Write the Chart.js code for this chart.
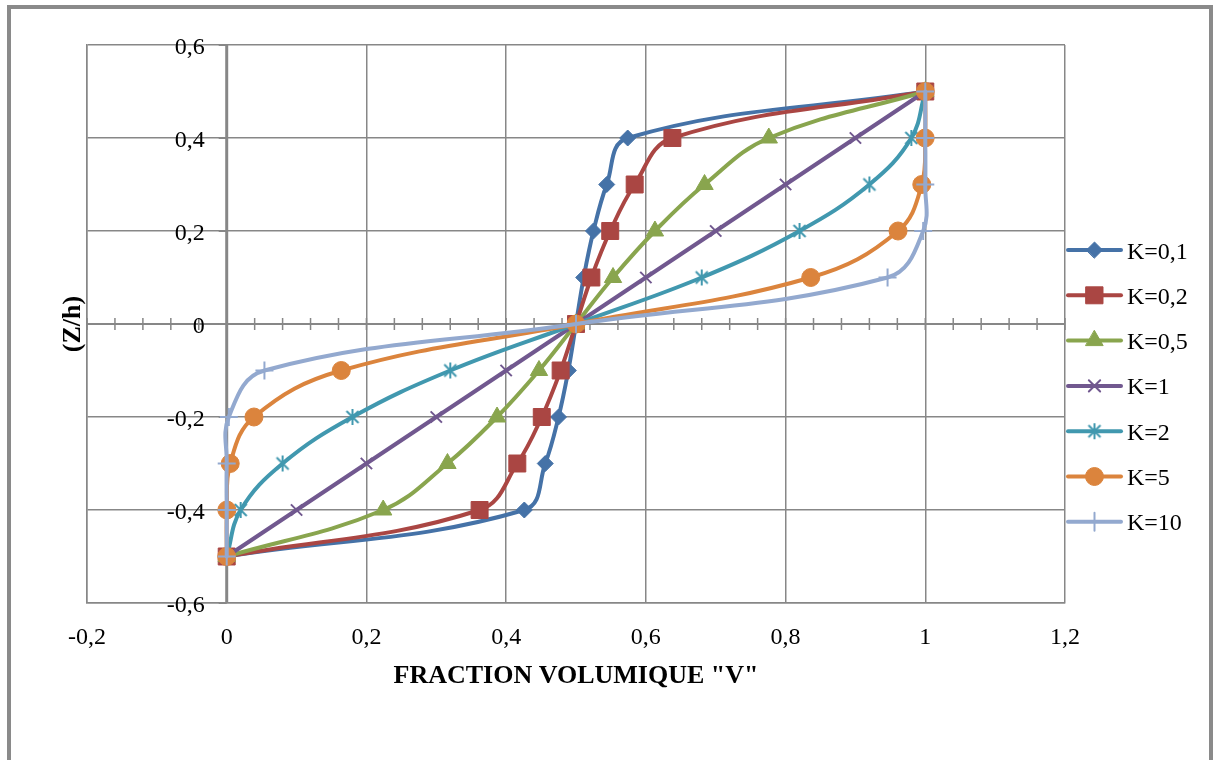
<!DOCTYPE html>
<html>
<head>
<meta charset="utf-8">
<script src="https://cdn.jsdelivr.net/npm/chart.js@4.4.1/dist/chart.umd.min.js"></script>
<style>
  body { margin: 0; background: #fff; }
  canvas { display: block; }
</style>
</head>
<body>
<canvas id="fgmChart" width="1220" height="760"></canvas>
<script>
// thickness position z/h and volume fraction V for each power index K
const zLevels = [-0.5, -0.4, -0.3, -0.2, -0.1, 0, 0.1, 0.2, 0.3, 0.4, 0.5];
const vK01 = [0, 0.426, 0.456, 0.475, 0.489, 0.5, 0.511, 0.525, 0.544, 0.574, 1];
const vK02 = [0, 0.362, 0.416, 0.451, 0.478, 0.5, 0.522, 0.549, 0.584, 0.638, 1];
const vK05 = [0, 0.224, 0.316, 0.387, 0.447, 0.5, 0.553, 0.613, 0.684, 0.776, 1];
const vK1  = [0, 0.1, 0.2, 0.3, 0.4, 0.5, 0.6, 0.7, 0.8, 0.9, 1];
const vK2  = [0, 0.02, 0.08, 0.18, 0.32, 0.5, 0.68, 0.82, 0.92, 0.98, 1];
const vK5  = [0, 0.0002, 0.005, 0.039, 0.164, 0.5, 0.836, 0.961, 0.995, 0.9998, 1];
const vK10 = [0, 0, 0, 0.003, 0.054, 0.5, 0.946, 0.997, 1, 1, 1];

const seriesLabels = ['K=0,1', 'K=0,2', 'K=0,5', 'K=1', 'K=2', 'K=5', 'K=10'];
const seriesValues = [vK01, vK02, vK05, vK1, vK2, vK5, vK10];

const xTickValues = [-0.2, 0, 0.2, 0.4, 0.6, 0.8, 1, 1.2];
const xTickLabels = ['-0,2', '0', '0,2', '0,4', '0,6', '0,8', '1', '1,2'];
const yTickValues = [0.6, 0.4, 0.2, 0, -0.2, -0.4, -0.6];
const yTickLabels = ['0,6', '0,4', '0,2', '0', '-0,2', '-0,4', '-0,6'];

const xTitle = 'FRACTION VOLUMIQUE "V"';
const yTitle = '(Z/h)';

const FONT = '"Liberation Serif", "Times New Roman", serif';
const AXIS_GREY = '#878787';

// asterisk marker: vertical bar plus an X
function starMarker(color) {
  const c = document.createElement('canvas');
  c.width = 18; c.height = 18;
  const g = c.getContext('2d');
  g.strokeStyle = color;
  g.lineWidth = 2;
  g.beginPath();
  g.moveTo(9, 1); g.lineTo(9, 17);
  g.moveTo(3, 3); g.lineTo(15, 15);
  g.moveTo(15, 3); g.lineTo(3, 15);
  g.stroke();
  return c;
}

const styles = [
  { color: '#4572A7', point: 'rectRot', radius: 8, bw: 1 },
  { color: '#AA4643', point: 'rect', radius: 12, bw: 1 },
  { color: '#89A54E', point: 'triangle', radius: 10, bw: 1 },
  { color: '#71588F', point: 'crossRot', radius: 8, bw: 2 },
  { color: '#4198AF', point: starMarker('#4198AF'), radius: 9, bw: 2 },
  { color: '#DB843D', point: 'circle', radius: 9, bw: 1 },
  { color: '#93A9CF', point: 'cross', radius: 9, bw: 2 }
];

const datasets = seriesLabels.map((label, i) => ({
  label: label,
  data: seriesValues[i].map((v, j) => ({ x: v, y: zLevels[j] })),
  showLine: true,
  tension: 0.4,
  borderColor: styles[i].color,
  backgroundColor: styles[i].color,
  borderWidth: 4,
  borderCapStyle: 'round',
  borderJoinStyle: 'round',
  pointStyle: styles[i].point,
  pointRadius: styles[i].radius,
  pointBorderWidth: styles[i].bw,
  pointBorderColor: styles[i].color,
  pointBackgroundColor: styles[i].color,
  order: seriesLabels.length - i
}));

const decorPlugin = {
  id: 'decor',
  beforeDraw(chart) {
    const ctx = chart.ctx;
    ctx.save();
    ctx.strokeStyle = '#8a8a8a';
    ctx.lineWidth = 4;
    ctx.strokeRect(9, 7, 1202, 800);
    ctx.restore();
  },
  beforeDatasetsDraw(chart) {
    const ctx = chart.ctx;
    const xs = chart.scales.x, ys = chart.scales.y;
    const x0 = xs.getPixelForValue(0);
    const y0 = ys.getPixelForValue(0);
    ctx.save();
    ctx.strokeStyle = AXIS_GREY;
    // horizontal axis through z = 0 with minor ticks
    ctx.lineWidth = 2;
    ctx.beginPath();
    ctx.moveTo(chart.chartArea.left, y0);
    ctx.lineTo(chart.chartArea.right, y0);
    ctx.stroke();
    ctx.lineWidth = 1.5;
    ctx.beginPath();
    for (let k = 0; k <= 35; k++) {
      const px = xs.getPixelForValue(-0.2 + k * 0.04);
      ctx.moveTo(px, y0 - 6);
      ctx.lineTo(px, y0 + 6);
    }
    ctx.stroke();
    // vertical axis through V = 0 with outside ticks
    ctx.lineWidth = 3;
    ctx.beginPath();
    ctx.moveTo(x0, chart.chartArea.top);
    ctx.lineTo(x0, chart.chartArea.bottom);
    ctx.stroke();
    ctx.lineWidth = 2;
    ctx.beginPath();
    yTickValues.forEach(v => {
      const py = ys.getPixelForValue(v);
      ctx.moveTo(x0 - 8, py);
      ctx.lineTo(x0, py);
    });
    ctx.stroke();
    ctx.restore();
  },
  afterDraw(chart) {
    const ctx = chart.ctx;
    const xs = chart.scales.x, ys = chart.scales.y;
    const x0 = xs.getPixelForValue(0);
    const area = chart.chartArea;
    ctx.save();
    ctx.fillStyle = '#000';
    ctx.font = '24px ' + FONT;
    ctx.textBaseline = 'alphabetic';
    ctx.textAlign = 'right';
    yTickValues.forEach((v, i) => {
      ctx.fillText(yTickLabels[i], x0 - 22, ys.getPixelForValue(v) + 9);
    });
    ctx.textAlign = 'center';
    xTickValues.forEach((v, i) => {
      ctx.fillText(xTickLabels[i], xs.getPixelForValue(v), area.bottom + 41);
    });
    ctx.font = 'bold 26px ' + FONT;
    ctx.fillText(xTitle, (area.left + area.right) / 2, area.bottom + 80);
    ctx.save();
    ctx.translate(80, (area.top + area.bottom) / 2);
    ctx.rotate(-Math.PI / 2);
    ctx.fillText(yTitle, 0, 0);
    ctx.restore();

    // legend: line with marker, then label
    ctx.font = '24px ' + FONT;
    ctx.textAlign = 'left';
    chart.data.datasets.forEach((ds, i) => {
      const ly = 250 + i * 45.3;
      ctx.strokeStyle = ds.borderColor;
      ctx.lineWidth = 4;
      ctx.lineCap = 'round';
      ctx.beginPath();
      ctx.moveTo(1068, ly);
      ctx.lineTo(1121, ly);
      ctx.stroke();
      ctx.fillStyle = ds.pointBackgroundColor;
      ctx.strokeStyle = ds.pointBorderColor;
      ctx.lineWidth = ds.pointBorderWidth;
      Chart.helpers.drawPoint(ctx, {
        pointStyle: ds.pointStyle,
        radius: ds.pointRadius,
        rotation: 0,
        borderWidth: ds.pointBorderWidth
      }, 1094.5, ly);
      ctx.fillStyle = '#000';
      ctx.fillText(ds.label, 1127, ly + 8.5);
    });
    ctx.restore();
  }
};

new Chart(document.getElementById('fgmChart').getContext('2d'), {
  type: 'scatter',
  data: { datasets: datasets },
  options: {
    responsive: false,
    animation: false,
    layout: { padding: { left: 87, top: 45, right: 155, bottom: 157 } },
    plugins: { legend: { display: false }, tooltip: { enabled: false } },
    scales: {
      x: {
        type: 'linear', min: -0.2, max: 1.2,
        ticks: { display: false, stepSize: 0.2 },
        grid: { color: AXIS_GREY, lineWidth: 1.5, drawTicks: false },
        border: { color: AXIS_GREY, width: 1.5 },
        afterFit: s => { s.height = 0; }
      },
      y: {
        type: 'linear', min: -0.6, max: 0.6,
        ticks: { display: false, stepSize: 0.2 },
        grid: { color: AXIS_GREY, lineWidth: 1.5, drawTicks: false },
        border: { color: AXIS_GREY, width: 1.5 },
        afterFit: s => { s.width = 0; }
      }
    }
  },
  plugins: [decorPlugin]
});
</script>
</body>
</html>
